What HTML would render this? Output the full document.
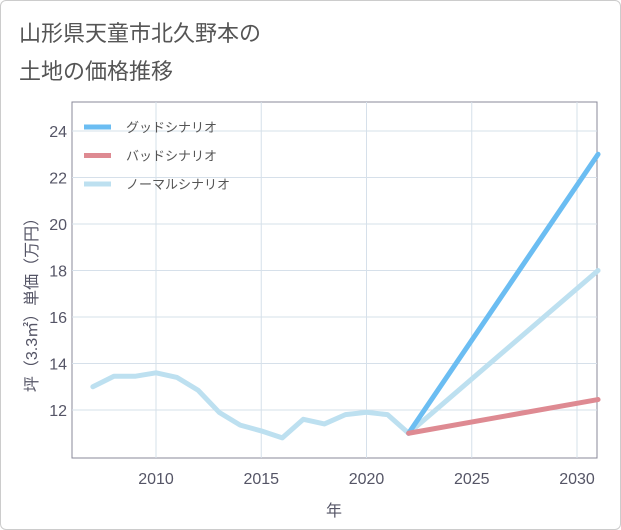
<!DOCTYPE html>
<html><head><meta charset="utf-8"><style>
body{margin:0;background:#fff;font-family:"Liberation Sans","Noto Sans CJK JP",sans-serif;}
#wrap{position:relative;width:619px;height:528px;border:1px solid #ccc;border-radius:6px;overflow:hidden;}
</style></head><body>
<div id="wrap">
<svg id="chart" width="619" height="528"></svg>
</div>
<script>
const years=[2007,2008,2009,2010,2011,2012,2013,2014,2015,2016,2017,2018,2019,2020,2021,2022];
const normalHist=[13.0,13.45,13.45,13.6,13.4,12.85,11.9,11.35,11.1,10.8,11.6,11.4,11.8,11.9,11.8,11.0];
const projYears=[2022,2031];
const goodProj=[11.0,23.0];
const badProj=[11.0,12.45];
const normalProj=[11.0,18.0];
const xTicks=[2010,2015,2020,2025,2030];
const yTicks=[12,14,16,18,20,22,24];
const NS="http://www.w3.org/2000/svg";
const svg=document.getElementById('chart');
const L=71,R=596,T=101,B=457;
function X(v){return 155+(v-2010)*21.05;}
function Y(v){return 409-(v-12)*23.25;}
function mk(t,a,p){const e=document.createElementNS(NS,t);for(const k in a)e.setAttribute(k,a[k]);(p||svg).appendChild(e);return e;}
function txt(x,y,s,a){const e=mk('text',Object.assign({x:x,y:y},a));e.textContent=s;return e;}
const t1=txt(18,40,'山形県天童市北久野本の',{'font-size':22,fill:'#555'});

const t2=txt(18,78,'土地の価格推移',{'font-size':22,fill:'#555'});

const frame=mk('rect',{x:L,y:T,width:R-L,height:B-T,fill:'none',stroke:'#889'});

xTicks.forEach(v=>{
 const g=mk('line',{x1:X(v),x2:X(v),y1:T,y2:B,stroke:'#d6e0ea'});
 
 const l=txt(X(v),483,String(v),{'font-size':16,fill:'#556','text-anchor':'middle'});
 
});
yTicks.forEach(v=>{
 const g=mk('line',{x1:L,x2:R,y1:Y(v),y2:Y(v),stroke:'#d6e0ea'});
 
 const l=txt(66,Y(v)+6,String(v),{'font-size':16,fill:'#556','text-anchor':'end'});
 
});
const xt=txt(333,515,'年',{'font-size':16,fill:'#556','text-anchor':'middle'});

const yt=txt(0,0,'坪（3.3㎡）単価（万円）',{'font-size':16,fill:'#556','text-anchor':'middle',transform:'translate(36,300) rotate(-90)'});

function line(xs,ys,color,name){
 const p=mk('polyline',{points:xs.map((x,i)=>X(x)+','+Y(ys[i])).join(' '),fill:'none',stroke:color,'stroke-width':5,'stroke-linejoin':'round','stroke-linecap':'round'});
 
}
line(years,normalHist,'#bde0f0','normal-history-line');
line(projYears,normalProj,'#bde0f0','normal-scenario-line');
line(projYears,goodProj,'#6bbdf2','good-scenario-line');
line(projYears,badProj,'#de8a92','bad-scenario-line');
[['グッドシナリオ','#6bbdf2','legend-good'],['バッドシナリオ','#de8a92','legend-bad'],['ノーマルシナリオ','#bde0f0','legend-normal']].forEach((d,i)=>{
 const y=126+i*28.5;
 const g=mk('g',{});
 mk('line',{x1:83,x2:110,y1:y,y2:y,stroke:d[1],'stroke-width':5},g);
 const e=mk('text',{x:125,y:y+5,'font-size':13,fill:'#555'},g);e.textContent=d[0];
});
</script>
</body></html>
